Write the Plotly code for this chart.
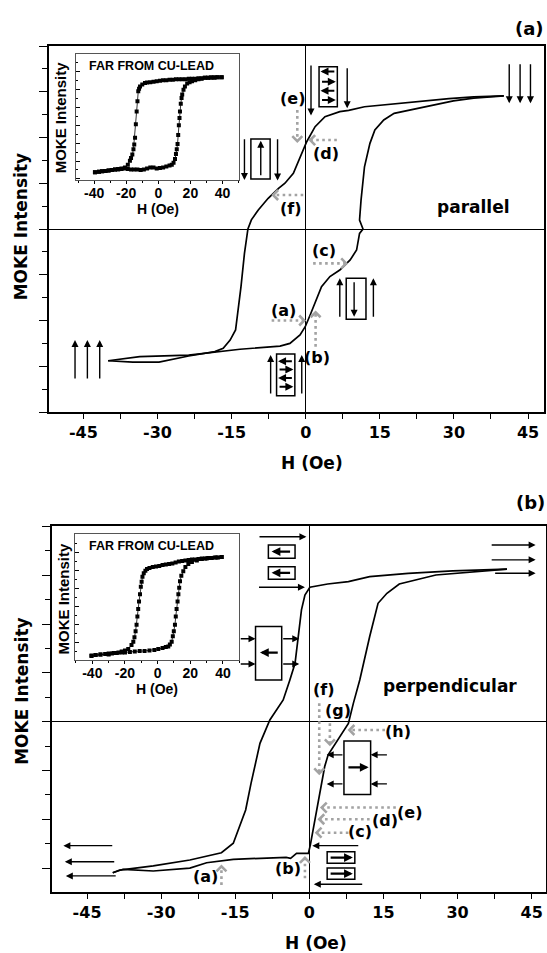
import plotly.graph_objects as go

W, H = 547, 953

# ---------------- data: panel (a) parallel (normalized MOKE intensity) ----------------
a_desc_h = [40.1, 34, 29, 23, 18, 14, 11.9, 8.7, 6.9, 3.9, 1.9, 0.2, -1.15, -2.5, -4.2, -5.5,
            -7.6, -9.6, -11, -11.7, -12.4, -13.1, -14.2, -15.3, -16.7, -18.4, -23.7, -29.7, -35, -40]
a_desc_y = [0.727, 0.722, 0.712, 0.696, 0.684, 0.674, 0.668, 0.648, 0.641, 0.614, 0.559, 0.477,
            0.395, 0.304, 0.25, 0.222, 0.168, 0.104, 0.05, 0.0, -0.133, -0.315, -0.552, -0.607,
            -0.652, -0.67, -0.694, -0.727, -0.727, -0.72]
a_asc_h = [-40, -33.6, -23.7, -18.1, -13.3, -5.2, -3.2, -1.15, -0.1, 0.9, 2.2, 3.2, 4.9, 6.9, 9.0,
           10.3, 10.9, 11.6, 10.9, 11.2, 11.9, 13, 14, 15.8, 17.9, 22.9, 29.9, 34, 40.1]
a_asc_y = [-0.72, -0.697, -0.689, -0.67, -0.657, -0.64, -0.625, -0.579, -0.534, -0.47, -0.388,
           -0.315, -0.26, -0.224, -0.169, -0.115, -0.024, 0.0, 0.049, 0.158, 0.34, 0.468, 0.541,
           0.596, 0.632, 0.66, 0.7, 0.715, 0.727]

# inset (a): far from Cu-lead
ia_desc_h = [39.5, 37, 35, 33, 31, 29, 27, 25, 23, 21, 19, 17, 15, 13, 11, 9, 7, 5, 3, 1, -1, -3,
             -5, -7, -8.3, -10, -11.4, -12, -12.5, -13, -13.5, -14, -14.5, -15, -15.5, -16.2, -17,
             -17.7, -19, -20.8, -23, -25, -27, -29, -31, -33, -35, -37, -39.5]
ia_desc_y = [1.0, 1.0, 0.99, 0.99, 0.99, 0.99, 0.98, 0.98, 0.97, 0.97, 0.97, 0.96, 0.96, 0.96,
             0.96, 0.95, 0.95, 0.94, 0.94, 0.93, 0.92, 0.91, 0.9, 0.89, 0.88, 0.85, 0.81, 0.76,
             0.71, 0.5, 0.29, 0.02, -0.26, -0.4, -0.5, -0.61, -0.68, -0.74, -0.82, -0.88, -0.9,
             -0.91, -0.92, -0.93, -0.94, -0.95, -0.96, -0.97, -0.98]
ia_asc_h = [-39.5, -37, -35, -33, -31, -29, -27, -25, -23, -21, -19, -17, -15, -13, -11, -9, -7,
            -5, -3, -1, 1, 3, 5, 7, 8.4, 9.5, 10.4, 11, 11.5, 12, 12.4, 12.8, 13.2, 13.5, 14, 14.5,
            14.9, 15.7, 16.6, 18, 19.5, 21, 23, 25, 27, 29, 31, 33, 35, 37, 39.5]
ia_asc_y = [-0.98, -0.97, -0.96, -0.95, -0.94, -0.93, -0.92, -0.92, -0.91, -0.9, -0.91, -0.92,
            -0.92, -0.92, -0.93, -0.92, -0.9, -0.88, -0.88, -0.9, -0.89, -0.88, -0.86, -0.84,
            -0.82, -0.78, -0.7, -0.6, -0.5, -0.39, -0.2, 0.0, 0.15, 0.29, 0.45, 0.57, 0.64, 0.74,
            0.81, 0.87, 0.9, 0.92, 0.94, 0.96, 0.97, 0.99, 0.99, 1.0, 1.0, 1.0, 1.0]

# ---------------- data: panel (b) perpendicular (MOKE intensity, tick units) ----------------
b_desc_h = [40, 29, 20, 12.2, 7.9, 3.7, 0.1, -0.9, -1.6, -2.3, -2.9, -3.95, -5.3, -8.0, -10,
            -11.8, -12.9, -15.4, -17.8, -24.2, -31.6, -38.4, -39.8]
b_desc_y = [6.25, 6.18, 6.08, 5.94, 5.74, 5.64, 5.51, 5.19, 4.58, 3.48, 2.39, 1.71, 0.89, 0.07,
            -0.89, -2.52, -3.62, -4.98, -5.37, -5.67, -5.91, -6.08, -6.19]
b_asc_h = [-39.8, -37.7, -31.6, -24.2, -20.8, -15.4, -4.7, -3.8, -2.6, -0.6, -0.2, 0.2, 1.1, 2.1,
           3.1, 3.8, 5.5, 7.9, 8.9, 10.2, 12.2, 13.9, 15.7, 18.2, 25.6, 40]
b_asc_y = [-6.19, -6.05, -6.12, -6.0, -5.78, -5.64, -5.56, -5.6, -5.4, -5.4, -5.4, -5.05, -4.03,
           -2.8, -1.84, -1.36, -0.82, -0.07, 0.75, 1.71, 3.48, 4.85, 5.26, 5.64, 6.01, 6.25]

# inset (b): far from Cu-lead
ib_desc_h = [39.2, 37, 35, 33, 31, 29, 27, 25, 23, 21, 19, 17, 15, 13, 11, 9, 7, 5, 3, 1, -1, -3,
             -5, -6.5, -7.5, -8.5, -9.3, -9.8, -10.3, -10.8, -11.4, -11.9, -12.4, -12.9, -13.5,
             -14.2, -14.9, -16, -18, -20, -22, -24, -27, -30, -32, -35, -38, -40.5]
ib_desc_y = [1.0, 0.99, 0.99, 0.98, 0.98, 0.97, 0.97, 0.96, 0.95, 0.95, 0.94, 0.93, 0.92, 0.91,
             0.89, 0.87, 0.86, 0.85, 0.84, 0.82, 0.81, 0.8, 0.78, 0.76, 0.72, 0.67, 0.6, 0.5, 0.4,
             0.25, 0.1, -0.05, -0.2, -0.37, -0.5, -0.62, -0.71, -0.78, -0.86, -0.89, -0.91, -0.93,
             -0.94, -0.95, -0.96, -0.97, -0.98, -1.0]
ib_asc_h = [-40.5, -38, -35, -32, -30, -28, -25, -22, -20, -17, -14, -11, -8, -5, -2, 0.4, 3, 5,
            6.5, 7.5, 8.6, 9.3, 9.9, 10.6, 11.1, 11.6, 12.2, 12.7, 13.2, 13.7, 14.5, 15.7, 17,
            18.8, 21, 24, 27, 30, 33, 36, 39.2]
ib_asc_y = [-0.99, -0.98, -0.97, -0.96, -0.97, -0.95, -0.94, -0.93, -0.93, -0.92, -0.91, -0.9,
            -0.9, -0.89, -0.88, -0.86, -0.84, -0.82, -0.81, -0.77, -0.71, -0.6, -0.5, -0.37,
            -0.2, -0.05, 0.1, 0.25, 0.38, 0.51, 0.62, 0.71, 0.8, 0.86, 0.9, 0.93, 0.96, 0.97,
            0.98, 0.99, 1.0]

main_tick_vals = [-45, -30, -15, 0, 15, 30, 45]
main_tick_text = ["-45", "-30", "-15", "0", "15", "30", "45"]
inset_tick_vals = [-40, -20, 0, 20, 40]
inset_tick_text = ["-40", "-20", "0", "20", "40"]

# ---------------- figure ----------------
BOLD = "DejaVu Sans"
ARIAL = "Liberation Sans"
GRAY = "#a3a3a3"

fig = go.Figure()

def curve(xs, ys, xa, ya):
    fig.add_trace(go.Scatter(x=xs, y=ys, xaxis=xa, yaxis=ya, mode="lines",
                             line=dict(color="black", width=1.7), hoverinfo="skip",
                             showlegend=False))

def inset_curve(xs, ys, xa, ya):
    fig.add_trace(go.Scatter(x=xs, y=ys, xaxis=xa, yaxis=ya, mode="lines+markers",
                             line=dict(color="black", width=0.8),
                             marker=dict(symbol="square", size=4, color="black"),
                             hoverinfo="skip", showlegend=False))

curve(a_desc_h, a_desc_y, "x", "y")
curve(a_asc_h, a_asc_y, "x", "y")
inset_curve(ia_desc_h, ia_desc_y, "x2", "y2")
inset_curve(ia_asc_h, ia_asc_y, "x2", "y2")
curve(b_desc_h, b_desc_y, "x3", "y3")
curve(b_asc_h, b_asc_y, "x3", "y3")
inset_curve(ib_desc_h, ib_desc_y, "x4", "y4")
inset_curve(ib_asc_h, ib_asc_y, "x4", "y4")

def px_x(p):
    return p / W

def px_y(p):
    return 1 - p / H

main_x = dict(showgrid=False, zeroline=True, zerolinecolor="black", zerolinewidth=1.2,
              showline=True, mirror=True, linecolor="black", linewidth=1.6,
              ticks="outside", ticklen=5, tickwidth=1.2, tickcolor="black",
              tickmode="array", tickvals=main_tick_vals, ticktext=main_tick_text,
              minor=dict(ticks="outside", dtick=7.5, tick0=0, ticklen=5, tickwidth=1.2,
                         tickcolor="black"),
              tickfont=dict(family=BOLD, size=16, color="black", weight="bold"))
inset_x = dict(showgrid=False, zeroline=False, showline=True, mirror=True,
               linecolor="#555", linewidth=1, ticks="outside", ticklen=3, tickwidth=1,
               tickcolor="black", tickmode="array", tickvals=inset_tick_vals,
               ticktext=inset_tick_text, ticklabelstandoff=-3,
               minor=dict(ticks="outside", dtick=10, tick0=0, ticklen=2, tickcolor="black"),
               tickfont=dict(family=ARIAL, size=14, color="black", weight="bold"))

fig.update_layout(
    width=W, height=H, margin=dict(l=0, r=0, t=0, b=0),
    paper_bgcolor="white", plot_bgcolor="white", showlegend=False,
    xaxis=dict(main_x, domain=[px_x(48.5), px_x(544.3)], range=[-52.07, 48.3], anchor="y"),
    yaxis=dict(domain=[px_y(412), px_y(46)], range=[-1, 1], anchor="x", showgrid=False,
               zeroline=True, zerolinecolor="black", zerolinewidth=1.2, showline=True,
               mirror=True, linecolor="black", linewidth=1.6, showticklabels=False,
               ticks="outside", dtick=0.25, tick0=0, ticklen=8, tickwidth=1.2,
               tickcolor="black",
               minor=dict(ticks="outside", dtick=0.125, tick0=0, ticklen=5, tickwidth=1.2,
                          tickcolor="black")),
    xaxis2=dict(inset_x, domain=[px_x(75.7), px_x(239)], range=[-51.5, 50.3], anchor="y2"),
    yaxis2=dict(domain=[px_y(180), px_y(54.3)], range=[-1.14, 1.48], anchor="x2",
                showgrid=False, zeroline=False, showline=True, mirror=True, linecolor="#555",
                linewidth=1, showticklabels=False, ticks="inside", tick0=0, dtick=0.372,
                ticklen=4, tickcolor="black",
                minor=dict(ticks="inside", dtick=0.186, tick0=0, ticklen=2, tickcolor="black")),
    xaxis3=dict(main_x, domain=[px_x(52), px_x(546)], range=[-52.1, 47.9], anchor="y3"),
    yaxis3=dict(domain=[px_y(892), px_y(525.7)], range=[-6.98, 8.03], anchor="x3",
                showgrid=False, zeroline=True, zerolinecolor="black", zerolinewidth=1.2,
                showline=True, mirror=True, linecolor="black", linewidth=1.6,
                showticklabels=False, ticks="outside", dtick=2, tick0=0, ticklen=8,
                tickwidth=1.2, tickcolor="black",
                minor=dict(ticks="outside", dtick=1, tick0=0, ticklen=5, tickwidth=1.2,
                           tickcolor="black")),
    xaxis4=dict(inset_x, domain=[px_x(75), px_x(239.3)], range=[-50.6, 50.0], anchor="y4"),
    yaxis4=dict(domain=[px_y(660), px_y(534.3)], range=[-1.081, 1.459], anchor="x4",
                showgrid=False, zeroline=False, showline=True, mirror=True, linecolor="#555",
                linewidth=1, showticklabels=False, ticks="inside", tick0=0, dtick=0.366,
                ticklen=4, tickcolor="black",
                minor=dict(ticks="inside", dtick=0.183, tick0=0, ticklen=2, tickcolor="black")),
)

anns = []
shapes = []

def text(xr, yr, x, y, s, size=16, fam=BOLD, angle=0):
    anns.append(dict(xref=xr, yref=yr, x=x, y=y, text=s, showarrow=False, textangle=angle,
                     xanchor="center", yanchor="middle",
                     font=dict(family=fam, size=size, color="black", weight="bold")))

def arrow(xr, yr, x0, y0, x1, y1, w=1.4, size=1.0, head=2):
    anns.append(dict(xref=xr, yref=yr, axref=xr, ayref=yr, x=x1, y=y1, ax=x0, ay=y0,
                     text="", showarrow=True, arrowhead=head, arrowwidth=w, arrowsize=size,
                     arrowcolor="black", standoff=0))

def box(xr, yr, x0, x1, y0, y1):
    shapes.append(dict(type="rect", xref=xr, yref=yr, x0=x0, x1=x1, y0=y0, y1=y1,
                       line=dict(color="black", width=1.5)))

CHEVRON = {
    "right": "M -5,5 L 0,0 L -5,-5",
    "left": "M 5,5 L 0,0 L 5,-5",
    "up": "M -5,-5 L 0,0 L 5,-5",
    "down": "M -5,5 L 0,0 L 5,5",
}

def gray(xr, yr, x0, y0, x1, y1, d):
    shapes.append(dict(type="line", xref=xr, yref=yr, x0=x0, y0=y0, x1=x1, y1=y1,
                       line=dict(color=GRAY, width=2.6, dash="2.6px,3.4px")))
    shapes.append(dict(type="path", xref=xr, yref=yr, xsizemode="pixel", ysizemode="pixel",
                       xanchor=x1, yanchor=y1, path=CHEVRON[d],
                       line=dict(color=GRAY, width=2.6)))

# ---- panel (a) annotations ----
for hx in [41.2, 43.4, 45.5]:
    arrow("x", "y", hx, 0.909, hx, 0.687)
for hx in [-46.7, -44.2, -41.7]:
    arrow("x", "y", hx, -0.825, hx, -0.607)
# (e)/(d) box
arrow("x", "y", 1.07, 0.902, 1.07, 0.62)
box("x", "y", 2.7, 6.4, 0.668, 0.887)
for yy, d in [(0.86, -1), (0.805, 1), (0.756, -1), (0.705, 1)]:
    if d > 0:
        arrow("x", "y", 3.0, yy, 6.1, yy, w=2, size=0.8)
    else:
        arrow("x", "y", 6.1, yy, 3.0, yy, w=2, size=0.8)
arrow("x", "y", 8.4, 0.887, 8.4, 0.66)
# (f) box
arrow("x", "y", -12.4, 0.498, -12.4, 0.268)
box("x", "y", -11.1, -7.2, 0.273, 0.492)
arrow("x", "y", -9.1, 0.285, -9.1, 0.482)
arrow("x", "y", -5.7, 0.498, -5.7, 0.265)
# (b) box
arrow("x", "y", -7.1, -0.907, -7.1, -0.689)
box("x", "y", -5.9, -2.2, -0.911, -0.683)
for yy, d in [(-0.722, -1), (-0.768, 1), (-0.814, -1), (-0.862, 1)]:
    if d > 0:
        arrow("x", "y", -5.6, yy, -2.5, yy, w=2, size=0.8)
    else:
        arrow("x", "y", -2.5, yy, -5.6, yy, w=2, size=0.8)
arrow("x", "y", -0.8, -0.907, -0.8, -0.689)
# (c) box
arrow("x", "y", 6.9, -0.488, 6.9, -0.269)
box("x", "y", 8.2, 12.2, -0.493, -0.269)
arrow("x", "y", 9.8, -0.283, 9.8, -0.479)
arrow("x", "y", 13.7, -0.488, 13.7, -0.269)

gray("x", "y", -6.9, -0.50, -0.3, -0.50, "right")
gray("x", "y", 2.0, -0.643, 2.0, -0.455, "up")
gray("x", "y", 1.5, -0.188, 8.2, -0.188, "right")
gray("x", "y", 6.3, 0.486, 0.9, 0.486, "left")
gray("x", "y", -1.7, 0.65, -1.7, 0.48, "down")
gray("x", "y", -0.5, 0.186, -6.6, 0.186, "left")

text("x", "y", -4.5, -0.443, "(a)")
text("x", "y", 2.2, -0.702, "(b)")
text("x", "y", 3.8, -0.119, "(c)")
text("x", "y", 4.1, 0.41, "(d)")
text("x", "y", -2.7, 0.714, "(e)")
text("x", "y", -2.9, 0.11, "(f)")
text("x", "y", 34, 0.118, "parallel", size=17)

# ---- panel (b) annotations ----
for yy, x0 in [(7.24, 36.6), (6.63, 36.6), (6.08, 37.3)]:
    arrow("x3", "y3", x0, yy, 45.8, yy)
for yy, x0, x1 in [(-5.08, -39.6, -49.8), (-5.74, -39.2, -49.5), (-6.32, -38.9, -49.3)]:
    arrow("x3", "y3", x0, yy, x1, yy)
arrow("x3", "y3", -10.4, 7.58, -0.6, 7.58)
box("x3", "y3", -8.3, -2.9, 6.7, 7.24)
arrow("x3", "y3", -3.6, 6.97, -7.65, 6.97, w=2.2, size=0.8)
box("x3", "y3", -8.3, -2.9, 5.84, 6.35)
arrow("x3", "y3", -3.6, 6.1, -7.65, 6.1, w=2.2, size=0.8)
arrow("x3", "y3", -10.5, 5.51, -0.9, 5.51)
# middle box
box("x3", "y3", -10.9, -5.6, 1.71, 3.9)
arrow("x3", "y3", -6.1, 2.83, -10.0, 2.83, w=2.2, size=0.8)
for yy in [3.4, 2.36]:
    arrow("x3", "y3", -14.2, yy, -10.9, yy)
    arrow("x3", "y3", -5.6, yy, -2.05, yy)
# right box
box("x3", "y3", 7.0, 12.4, -2.98, -0.79)
arrow("x3", "y3", 7.6, -1.87, 12.0, -1.87, w=2.2, size=0.8)
for yy in [-1.36, -2.55]:
    arrow("x3", "y3", 7.0, yy, 3.5, yy)
    arrow("x3", "y3", 16.0, yy, 12.4, yy)
# bottom boxes
arrow("x3", "y3", 10.2, -5.08, 0.6, -5.08)
box("x3", "y3", 3.6, 9.2, -5.8, -5.33)
arrow("x3", "y3", 4.0, -5.57, 8.8, -5.57, w=2.2, size=0.8)
box("x3", "y3", 3.6, 9.2, -6.46, -6.0)
arrow("x3", "y3", 4.0, -6.23, 8.8, -6.23, w=2.2, size=0.8)
arrow("x3", "y3", 11.0, -6.66, 0.9, -6.66)

gray("x3", "y3", -17.8, -6.69, -17.8, -5.93, "up")
gray("x3", "y3", -0.9, -6.42, -0.9, -5.58, "up")
gray("x3", "y3", 7.9, -4.55, 1.45, -4.55, "left")
gray("x3", "y3", 12.2, -4.0, 2.0, -4.0, "left")
gray("x3", "y3", 17.5, -3.52, 2.5, -3.52, "left")
gray("x3", "y3", 2.0, 0.75, 2.0, -2.12, "down")
gray("x3", "y3", 4.15, -0.07, 4.15, -0.93, "down")
gray("x3", "y3", 15.3, -0.34, 8.1, -0.34, "left")

text("x3", "y3", -21.0, -6.35, "(a)")
text("x3", "y3", -4.4, -6.01, "(b)")
text("x3", "y3", 10.2, -4.51, "(c)")
text("x3", "y3", 15.4, -4.06, "(d)")
text("x3", "y3", 20.3, -3.71, "(e)")
text("x3", "y3", 3.0, 1.3, "(f)")
text("x3", "y3", 5.8, 0.45, "(g)")
text("x3", "y3", 18.0, -0.41, "(h)")
text("x3", "y3", 28.5, 1.48, "perpendicular", size=17)

# ---- titles / labels (paper) ----
text("paper", "paper", px_x(529.5), px_y(28.3), "(a)", size=18)
text("paper", "paper", px_x(530), px_y(502.5), "(b)", size=18)
text("paper", "paper", px_x(21.8), px_y(226.5), "MOKE Intensity", size=17, angle=-90)
text("paper", "paper", px_x(21.8), px_y(691), "MOKE Intensity", size=17, angle=-90)
text("paper", "paper", px_x(312.3), px_y(463), "H (Oe)", size=17)
text("paper", "paper", px_x(315.8), px_y(943), "H (Oe)", size=17)
# insets
text("paper", "paper", px_x(151.7), px_y(66), "FAR FROM CU-LEAD", size=12.5, fam=ARIAL)
text("paper", "paper", px_x(151.7), px_y(545.5), "FAR FROM CU-LEAD", size=12.5, fam=ARIAL)
text("paper", "paper", px_x(60.8), px_y(117.5), "MOKE Intensity", size=15, fam=ARIAL, angle=-90)
text("paper", "paper", px_x(62.5), px_y(599), "MOKE Intensity", size=15, fam=ARIAL, angle=-90)
text("paper", "paper", px_x(157.5), px_y(208.5), "H (Oe)", size=14, fam=ARIAL)
text("paper", "paper", px_x(157), px_y(689), "H (Oe)", size=14, fam=ARIAL)

fig.update_layout(annotations=anns, shapes=shapes)

fig.write_html("out.html", config={"displayModeBar": False},
               post_script="document.body.style.margin='0';document.body.style.overflow='hidden';")
